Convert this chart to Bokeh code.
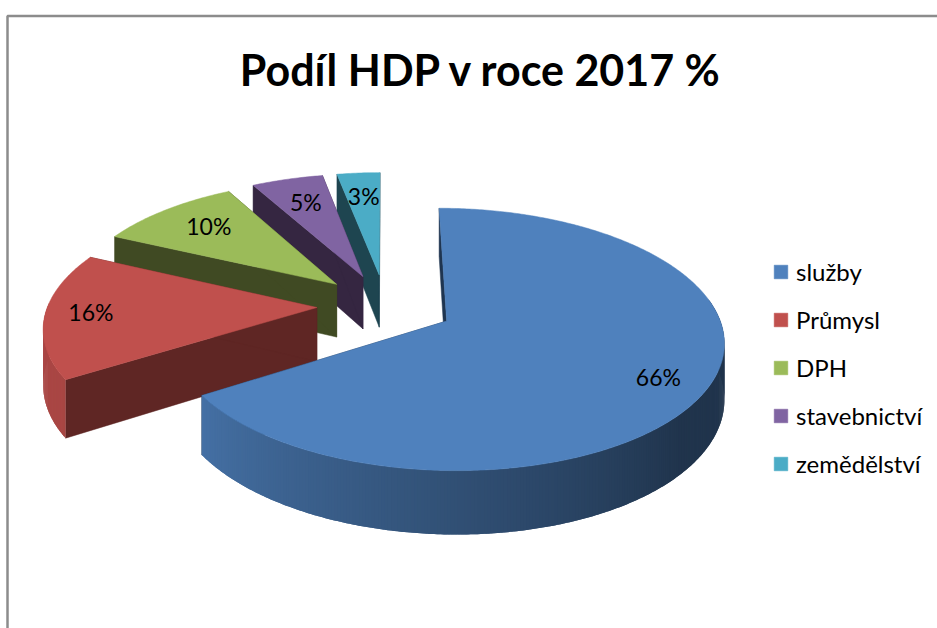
import numpy as np
from bokeh.plotting import figure
from bokeh.models import Legend, LegendItem, Range1d
from bokeh.core.properties import value
from bokeh.embed import file_html
from bokeh.resources import INLINE

# ---- chart content ----
title_text = "Podíl HDP v roce 2017 %"
categories = ["služby", "Průmysl", "DPH", "stavebnictví", "zemědělství"]
shares = [66, 16, 10, 5, 3]
share_labels = ["66%", "16%", "10%", "5%", "3%"]

# ---- styles ----
top_colors = ["#4f81bd", "#c0504d", "#9bbb59", "#8064a2", "#4bacc6"]
side_colors = ["#1f3550", "#5f2624", "#404a23", "#352641", "#1e4550"]
FONT = "Lato"

# ---- projection of the exploded, tilted pie onto the page ----
CX, CY = 385.0, 305.0
R, EXPLODE = 269.0, 68.6
K, D = 0.462, 1950.0
H = 54.0
label_radius = [0.82, 0.832, 0.73, 0.73, 0.72]
label_dy = [2, -2, -3, -1, -3]


def project(theta_deg, r, offset_x=0.0, offset_y=0.0):
    t = np.radians(theta_deg)
    X = r * np.sin(t) + offset_x
    Y = -r * np.cos(t) + offset_y
    s = D / (D - Y)
    return CX + X * s, CY + Y * K * s, s


def shade(theta):
    return float(np.interp(theta, [130, 240], [0.40, 0.88]))


def scaled(hex_color, f):
    rgb = [int(hex_color[i:i + 2], 16) for i in (1, 3, 5)]
    return "#%02x%02x%02x" % tuple(int(round(c * f)) for c in rgb)


p = figure(width=937, height=628, output_backend="svg", toolbar_location=None,
           x_range=Range1d(0, 937), y_range=Range1d(628, 0),
           min_border=0, outline_line_color=None)
p.axis.visible = False
p.grid.visible = False
p.background_fill_color = "white"

# chart-area frame (top and left edges only are on the page)
p.line([7, 7, 937], [628, 15.5, 15.5], line_color="#8c8c8c", line_width=2.5)

fractions = np.array(shares) / sum(shares)
ends = np.cumsum(fractions) * 360
starts = np.concatenate([[0], ends[:-1]])
mids = (starts + ends) / 2

tops = {}
for i in reversed(range(len(shares))):
    a0, a1, mid = starts[i], ends[i], mids[i]
    ox = EXPLODE * np.sin(np.radians(mid))
    oy = -EXPLODE * np.cos(np.radians(mid))
    thetas = np.linspace(a0, a1, max(4, int((a1 - a0) / 0.6)))
    ax, ay, asc = project(0, 0, ox, oy)
    ex, ey, es = project(thetas, R, ox, oy)

    # radial walls
    for j in (0, -1):
        p.patch([ax, ex[j], ex[j], ax],
                [ay, ey[j], ey[j] + H * es[j], ay + H * asc],
                fill_color=side_colors[i], line_color=side_colors[i], line_width=0.5)

    # outer wall: only the part that faces the viewer, as overlapping shaded strips
    xs, ys, cs = [], [], []
    for j in range(len(thetas) - 1):
        th = (thetas[j] + thetas[j + 1]) / 2
        if not 80 < th < 272:
            continue
        k = min(j + 2, len(thetas) - 1)
        if thetas[k] > 272:
            k = j + 1
        xs.append([ex[j], ex[j + 1], ex[k], ex[k], ex[j + 1], ex[j]])
        ys.append([ey[j], ey[j + 1], ey[k], ey[k] + H * es[k], ey[j + 1] + H * es[j + 1], ey[j] + H * es[j]])
        cs.append(scaled(top_colors[i], shade(th)))
    if xs:
        p.patches(xs, ys, fill_color=cs, line_color=None)

    # top face
    tops[i] = p.patch(np.concatenate([[ax], ex]), np.concatenate([[ay], ey]),
                      fill_color=top_colors[i], line_color=top_colors[i], line_width=0.5)

# percentage labels
lx, ly = [], []
for i, mid in enumerate(mids):
    ox = EXPLODE * np.sin(np.radians(mid))
    oy = -EXPLODE * np.cos(np.radians(mid))
    x, y, _ = project(mid, R * label_radius[i], ox, oy)
    lx.append(float(x))
    ly.append(float(y) + label_dy[i])
p.text(lx, ly, text=share_labels, text_font=value(FONT), text_font_size="23px",
       text_color="#000000", text_align="center", text_baseline="middle")

# title
p.text([481], [69], text=[title_text], text_font=value(FONT), text_font_size="43px",
       text_font_style="bold", text_color="#000000", text_align="center",
       text_baseline="middle")

# legend
legend = Legend(items=[LegendItem(label=c, renderers=[tops[i]]) for i, c in enumerate(categories)],
                location=(772, 150), orientation="vertical",
                glyph_width=17, glyph_height=17, label_standoff=7,
                spacing=19, padding=0, margin=0, border_line_color=None,
                background_fill_alpha=0, label_text_font=FONT,
                label_text_font_size="24px", label_text_color="#000000",
                label_height=26)
p.add_layout(legend, "center")

open("out.html", "w").write(file_html(p, INLINE))
